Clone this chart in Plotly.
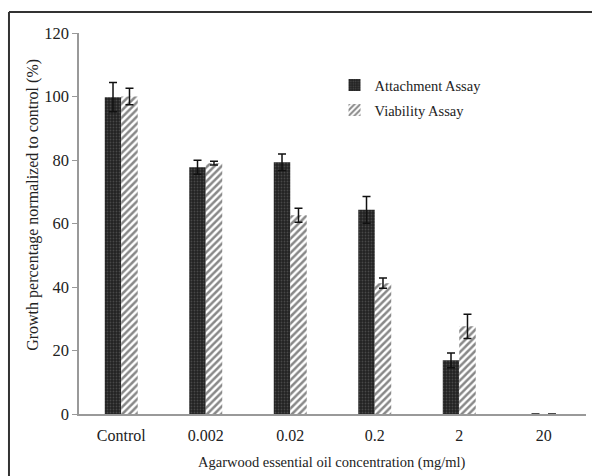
import plotly.graph_objects as go

categories = ["Control", "0.002", "0.02", "0.2", "2", "20"]
attachment = [99.8, 77.7, 79.3, 64.3, 16.9, 0]
attachment_err = [4.6, 2.2, 2.6, 4.2, 2.3, None]
viability = [100.0, 79.0, 62.6, 41.2, 27.6, 0]
viability_err = [2.6, 0.6, 2.2, 1.6, 3.8, None]

serif = "Liberation Serif, Times New Roman, serif"

fig = go.Figure()
fig.add_trace(go.Bar(
    name="Attachment Assay", x=categories, y=attachment, legendgroup="a",
    marker=dict(color="#222222", line=dict(width=0),
                pattern=dict(shape=".", fgcolor="#6e6e6e", size=3, solidity=0.3)),
    error_y=dict(type="data", array=attachment_err, color="#111", thickness=1.5, width=4),
))
fig.add_trace(go.Bar(
    name="Viability Assay", x=categories, y=viability, legendgroup="v",
    marker=dict(color="white", line=dict(width=0),
                pattern=dict(shape="/", fgcolor="#111", size=5, solidity=0.5)),
    error_y=dict(type="data", array=viability_err, color="#111", thickness=1.5, width=4),
))

fig.update_layout(
    width=592, height=476,
    margin=dict(l=79, r=6, t=33, b=62),
    paper_bgcolor="white", plot_bgcolor="white",
    barmode="group", bargap=0.61, bargroupgap=0,
    font=dict(family=serif, size=13, color="#222"),
    showlegend=True,
    legend=dict(x=0.504, y=0.905, xanchor="left", yanchor="top",
                font=dict(family=serif, size=14.5, color="#222"),
                bgcolor="rgba(0,0,0,0)", itemwidth=30, tracegroupgap=3),
    xaxis=dict(showline=True, linecolor="#999", linewidth=1.5, ticks="",
               automargin=False, ticklabelstandoff=6,
               tickfont=dict(family=serif, size=16, color="#222")),
    yaxis=dict(range=[0, 120], tickvals=[0, 20, 40, 60, 80, 100, 120],
               showline=True, linecolor="#999", linewidth=1.5, ticks="outside",
               ticklen=5, tickcolor="#999", showgrid=False, zeroline=False,
               automargin=False,
               tickfont=dict(family=serif, size=16.5, color="#222")),
    annotations=[
        dict(text="Growth percentage normalized to control (%)", xref="paper", yref="paper",
             x=(33 - 79) / 507, y=0.549, xanchor="center", yanchor="middle", textangle=-90,
             showarrow=False, font=dict(family=serif, size=16, color="#222")),
        dict(text="Agarwood essential oil concentration (mg/ml)", xref="paper", yref="paper",
             x=0.499, y=(414 - 462) / 381, xanchor="center", yanchor="middle",
             showarrow=False, font=dict(family=serif, size=14.5, color="#222")),
    ],
    shapes=[
        dict(type="line", xref="paper", yref="paper", x0=-0.1381, x1=1.0118, y0=1.0551, y1=1.0551,
             line=dict(color="#333", width=2)),
        dict(type="line", xref="paper", yref="paper", x0=-0.1381, x1=-0.1381, y0=1.0551, y1=-0.163,
             line=dict(color="#333", width=2)),
    ],
)

fig.write_html(
    "out.html",
    config={"displayModeBar": False},
    post_script=(
        "document.body.style.margin='0';document.body.style.overflow='hidden';"
        "document.documentElement.style.overflow='hidden';"
    ),
)
